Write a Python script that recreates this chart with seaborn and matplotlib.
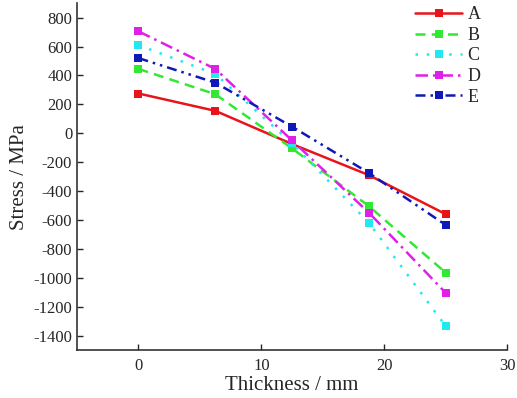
import seaborn as sns
import pandas as pd
import matplotlib.pyplot as plt

# data
thickness = [0, 6.25, 12.5, 18.75, 25]
series = ['A', 'B', 'C', 'D', 'E']
stress_a = [275, 155, -75, -290, -560]
stress_b = [445, 270, -105, -505, -965]
stress_c = [610, 410, -70, -620, -1335]
stress_d = [705, 445, -50, -550, -1105]
stress_e = [520, 350, 45, -275, -635]
colors = ['#e8141b', '#33e833', '#22e8f0', '#e020e8', '#1018b8']

df = pd.DataFrame({
    'x': thickness * 5,
    'y': stress_a + stress_b + stress_c + stress_d + stress_e,
    'grp': [s for s in series for _ in thickness],
})

sns.set_style('ticks')
plt.rcParams['font.family'] = ['Liberation Serif', 'DejaVu Serif']
plt.rcParams['axes.unicode_minus'] = False
plt.rcParams['xtick.direction'] = 'in'
plt.rcParams['ytick.direction'] = 'in'

fig = plt.figure(figsize=(5.17, 3.98), dpi=100)
ax = fig.add_axes([0.149, 0.1206, 0.832, 0.8714])

dashes = {'A': '', 'B': (4, 2.5), 'C': (1, 3.5), 'D': (5, 2, 1, 2), 'E': (4, 2, 1, 2, 1, 2)}
sns.lineplot(data=df, x='x', y='y', hue='grp', style='grp', palette=colors,
             dashes=dashes, markers=['s'] * 5, markersize=6, markeredgewidth=0,
             linewidth=1.8, ax=ax)

ax.set_xlim(-5, 30)
ax.set_ylim(-1500, 900)
ax.set_xticks([0, 10, 20, 30])
ax.set_yticks(range(-1400, 801, 200))
ax.tick_params(labelsize=12, length=4, width=1)
ax.tick_params(axis='x', pad=6)
ax.set_xlabel('Thickness / mm', fontsize=15, labelpad=1)
ax.set_ylabel('Stress / MPa', fontsize=15, labelpad=3)
sns.despine(ax=ax)
for sp in ['left', 'bottom']:
    ax.spines[sp].set_linewidth(1.2)
    ax.spines[sp].set_color('#333333')

ax.legend(title=None, frameon=False, loc='upper right', fontsize=13,
          handlelength=2.6, numpoints=1, labelspacing=0.2,
          bbox_to_anchor=(0.955, 1.012), borderaxespad=0, handletextpad=0.3)

fig.savefig('out.png', dpi=100)
